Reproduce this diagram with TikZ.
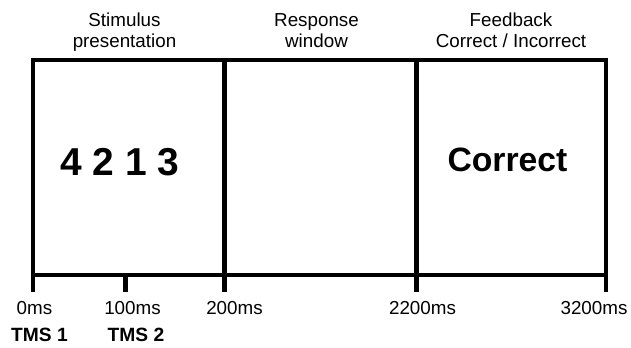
\documentclass[tikz,border=0pt]{standalone}
\usepackage{fontspec}
\setmainfont{Liberation Sans}
\begin{document}
\begin{tikzpicture}[x=0.75pt,y=-0.75pt,
  frame/.style={line width=3.4pt,line join=miter,line cap=butt},
  lbl/.style={inner sep=0pt,anchor=base,font=\fontsize{14.1}{16}\selectfont},
  tms/.style={inner sep=0pt,anchor=base,font=\fontsize{14.4}{16}\selectfont\bfseries},
  big/.style={inner sep=0pt,anchor=base,font=\fontsize{29.2}{32}\selectfont\bfseries}]
\useasboundingbox (0,0) rectangle (631,347);
% time points along the axis
\coordinate (t0top) at (33,60);
\coordinate (t3top) at (606,60);
\coordinate (t0) at (33,275);
\coordinate (t1) at (125.7,275);
\coordinate (t2) at (224.5,275);
\coordinate (t22) at (416.7,275);
\coordinate (t3) at (606,275);
% outer frame with the bottom ticks
\draw[frame] ([yshift=-17*0.75pt]t0) -- (t0top) -- (t3top) -- ([yshift=-17*0.75pt]t3);
\draw[frame] (t0) -- (t3);
\draw[frame] (t2 |- t0top) -- ([yshift=-17*0.75pt]t2);
\draw[frame] (t22 |- t0top) -- ([yshift=-17*0.75pt]t22);
\draw[frame] (t1) -- ([yshift=-17*0.75pt]t1);
% phase headings
\node[lbl] (h1a) at (124.5,26) {Stimulus};
\node[lbl] (h1b) at (124.5,47) {presentation};
\node[lbl] (h2a) at (316.5,26) {Response};
\node[lbl] (h2b) at (316.5,47) {window};
\node[lbl] (h3a) at (511,26) {Feedback};
\node[lbl] (h3b) at (511,47) {Correct / Incorrect};
% screen contents
\node[big] (digits) at (120,175) {4 2 1 3};
\node[big,font=\fontsize{25.3}{28}\selectfont\bfseries] (fb) at (507.5,171.5) {Correct};
% time labels
\node[lbl] (l0) at (34.5,314) {0ms};
\node[lbl] (l1) at (132.5,314) {100ms};
\node[lbl] (l2) at (234.5,314) {200ms};
\node[lbl] (l22) at (422.5,314) {2200ms};
\node[lbl] (l3) at (594,314) {3200ms};
\node[tms] (s1) at (39.5,341.5) {TMS 1};
\node[tms] (s2) at (136,341.5) {TMS 2};
\end{tikzpicture}
\end{document}
